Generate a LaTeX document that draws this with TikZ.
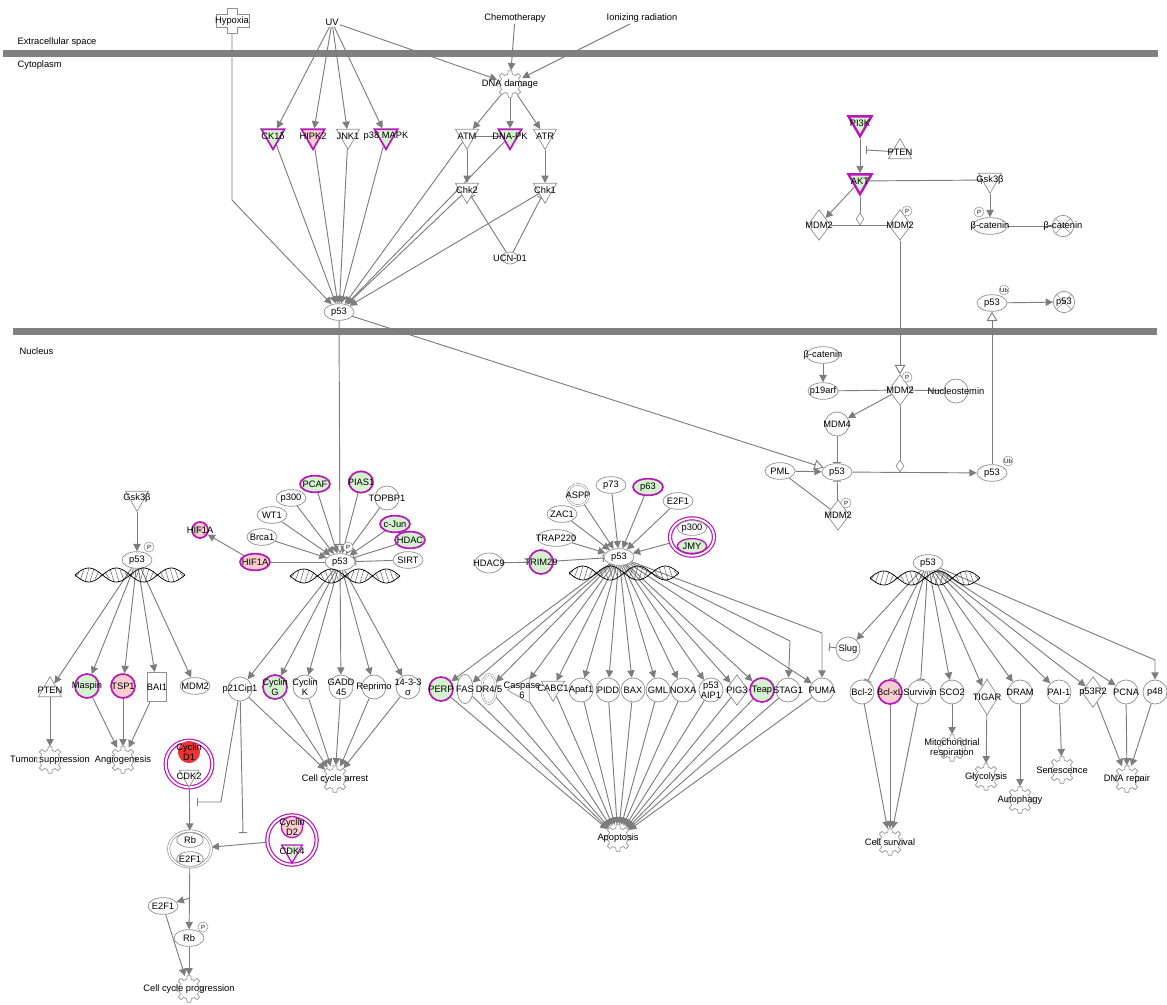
\documentclass[tikz,border=0pt]{standalone}
\usepackage{fontspec}
\setmainfont{Liberation Sans}
\usetikzlibrary{shapes.geometric, arrows.meta, backgrounds}
\definecolor{ecol}{RGB}{125,125,125}
\definecolor{ncol}{RGB}{145,145,145}
\definecolor{mag}{RGB}{185,25,185}
\definecolor{lgr}{RGB}{212,242,206}
\definecolor{lpk}{RGB}{250,206,206}
\definecolor{lred}{RGB}{236,52,52}
\definecolor{membr}{RGB}{128,128,128}
\newcommand\lblf{\fontsize{7pt}{7.6pt}\selectfont}
\newcommand\tinyf{\fontsize{4.5pt}{5pt}\selectfont}
\newcommand\fnode[3]{\pic at (#2) {gear}; \node[fnc, lb={#3}] (#1) at (#2) {};}
\tikzset{
 every label/.style={font=\lblf, inner sep=0pt, align=center, text=black},
 lb/.style={label={center:#1}},
 nbase/.style={draw=ncol, fill=white, line width=0.55pt, inner sep=0pt},
 ell/.style={nbase, ellipse, minimum width=22.5pt, minimum height=12.5pt},
 circ/.style={nbase, circle, minimum size=18pt},
 trid/.style={nbase, regular polygon, regular polygon sides=3, shape border rotate=180, minimum size=20pt},
 triu/.style={nbase, regular polygon, regular polygon sides=3, minimum size=20pt},
 dia/.style={nbase, diamond, minimum width=17pt, minimum height=23pt},
 jd/.style={nbase, diamond, minimum width=6pt, minimum height=9pt},
 mg/.style={draw=mag, line width=1.3pt, fill=lgr},
 mp/.style={draw=mag, line width=1.3pt, fill=lpk},
 txt/.style={font=\lblf, inner sep=1pt},
 badge/.style={circle, draw=ncol, fill=white, line width=0.4pt, inner sep=0pt, minimum size=7.5pt, font=\tinyf},
 degr/.style={circ, minimum size=16pt, path picture={\draw[ncol, line width=0.5pt] (path picture bounding box.north east) -- (path picture bounding box.south west) (path picture bounding box.north west) -- (path picture bounding box.south east);}},
 cplxm/.style={circle, draw=mag, line width=0.9pt, double=white, double distance=1.4pt, fill=white, inner sep=0pt},
 cplxg/.style={ellipse, draw=ncol, line width=0.5pt, double=white, double distance=1.2pt, fill=white, inner sep=0pt},
 fnc/.style={circle, minimum size=20pt, inner sep=0pt},
 ln/.style={draw=ecol, line width=0.7pt},
 act/.style={ln, -{Triangle[length=5.5pt, width=5.5pt]}},
 inh/.style={ln, -{Bar[width=6pt, line width=0.7pt]}},
 oarr/.style={ln, -{Triangle[open, length=7pt, width=8pt, fill=white]}},
 pl/.style={ln},
 gear/.pic={\draw[ncol, line width=0.5pt, fill=white] (-13:7.5pt) \foreach \a in {0,45,...,315}{ -- (\a-13:7.5pt) -- (\a-8:10pt) -- (\a+8:10pt) -- (\a+13:7.5pt)} -- cycle;},
 helix/.pic={
  \foreach \hh in {-53,-48,...,52} \draw[black!65, line width=0.35pt] ({\hh-2},{7*sin(\hh/55*360)}) -- ({\hh+2},{-7*sin(\hh/55*360)});
  \draw[black, line width=0.55pt] plot[domain=-55:55, samples=45, smooth, variable=\hv] (\hv,{7*sin(\hv/55*360)});
  \draw[black, line width=0.55pt] plot[domain=-55:55, samples=45, smooth, variable=\hv] (\hv,{-7*sin(\hv/55*360)});
 }
}
\begin{document}
\begin{tikzpicture}[x=0.75pt, y=-0.75pt]
\useasboundingbox (0,0) rectangle (1167,1005);

% compartment labels
\node[txt, anchor=west] (lext) at (16,42) {Extracellular space};
\node[txt, anchor=west] (lcyt) at (16,65) {Cytoplasm};
\node[txt, anchor=west] (lnuc) at (18,351) {Nucleus};

% ---------- top ----------
\draw[ncol, fill=white, line width=0.5pt] (227,8) -- (237,8) -- (237,14) -- (249,14) -- (249,27) -- (237,27) -- (237,33) -- (227,33) -- (227,27) -- (216,27) -- (216,14) -- (227,14) -- cycle;
\node[txt, minimum height=18pt] (hyp) at (232,21) {Hypoxia};
\coordinate (hk) at (232,200);
\node[txt] (uv) at (332,22) {UV};
\node[txt] (chemo) at (515,18) {Chemotherapy};
\node[txt] (ionr) at (642,18) {Ionizing radiation};
\fnode{dnad}{510,84}{DNA damage}
\node[trid, mg, lb=CK1δ] (ck1) at (273,136) {};
\node[trid, mp, lb=HIPK2] (hipk) at (313,136) {};
\node[trid, lb=JNK1] (jnk) at (348,136) {};
\node[trid, mg, lb={p38 MAPK}] (p38) at (386,136) {};
\node[trid, lb=ATM] (atm) at (467,136) {};
\node[trid, mg, lb={DNA-PK}] (dnapk) at (510,136) {};
\node[trid, lb=ATR] (atr) at (545,136) {};
\node[trid, lb=Chk2] (chk2) at (467,190) {};
\node[trid, lb=Chk1] (chk1) at (545,190) {};
\node[ell, minimum width=12pt, minimum height=9pt, lb={UCN-01}] (ucn) at (510,258) {};
\node[ell, lb=p53] (p53a) at (339,312) {};

% ---------- top right ----------
\node[trid, mg, line width=1.8pt, lb=PI3K] (pi3k) at (860,123) {};
\node[triu, lb=PTEN] (pten1) at (900,152) {};
\coordinate (pk) at (866,150);
\node[trid, mg, line width=1.8pt, lb=AKT] (akt) at (860,181) {};
\node[trid, lb=Gsk3β] (gsk1) at (990,180) {};
\node[dia, lb=MDM2] (mdm2a) at (819,225) {};
\node[jd] (jd1) at (860,219) {};
\node[dia, lb=MDM2] (mdm2b) at (900,225) {};
\node[badge] (bg1) at (907,211) {P};
\node[ell, minimum width=26pt, lb=β-catenin] (bcat1) at (990,226) {};
\node[badge] (bg2) at (979,212) {P};
\node[degr, lb=β-catenin] (bcatd) at (1063,226) {};
\node[ell, lb=p53] (p53ub1) at (992,303) {};
\node[badge] (bg3) at (1004,290) {Ub};
\node[degr, lb=p53] (p53d1) at (1064,302) {};

% ---------- nucleus right ----------
\node[ell, minimum width=25pt, lb=β-catenin] (bcat2) at (823,355) {};
\node[ell, lb=p19arf] (p19) at (823,391) {};
\node[dia, lb=MDM2] (mdm2c) at (900,390) {};
\node[badge] (bg4) at (907,377) {P};
\node[circ, lb=Nucleostemin] (nucl) at (956,391) {};
\node[circ, lb=MDM4] (mdm4) at (837,424) {};
\node[ell, lb=p53] (p53r) at (837,472) {};
\node[ell, lb=PML] (pml) at (780,471) {};
\node[dia, lb=MDM2] (mdm2d) at (838,515) {};
\node[badge] (bg5) at (846,503) {P};
\node[jd] (jd2) at (900,466) {};
\node[ell, lb=p53] (p53ub2) at (992,473) {};
\node[badge] (bg6) at (1008,461) {Ub};

% ---------- cluster 1 ----------
\node[trid, lb=Gsk3β] (gsk2) at (137,498) {};
\node[ell, lb=p53] (p53b) at (137,560) {};
\node[badge] (bg7) at (149,547) {P};
\pic at (130,575) {helix};
\node[triu, lb=PTEN] (pten2) at (50,690) {};
\node[circ, mg, lb=Maspin] (masp) at (87,686) {};
\node[circ, mp, lb=TSP1] (tsp1) at (123,686) {};
\node[nbase, rectangle, minimum width=14pt, minimum height=22pt, lb=BAI1] (bai1) at (157,687) {};
\node[ell, lb=MDM2] (mdm2e) at (195,686) {};
\fnode{tumor}{50,760}{Tumor suppression}
\fnode{angio}{123,760}{Angiogenesis}

% ---------- cluster 2 ----------
\node[ell, lb=p53] (p53c) at (340,562) {};
\node[badge] (bg8) at (348,547) {P};
\pic at (345,576) {helix};
\node[ell, mp, lb=HIF1A] (hif) at (255,562) {};
\node[degr, mp, minimum size=12pt, lb=HIF1A] (hifd) at (200,530) {};
\node[ell, lb=Brca1] (brca) at (262,537) {};
\node[ell, lb=WT1] (wt1) at (272,515) {};
\node[ell, lb=p300] (p300a) at (291,498) {};
\node[ell, mg, lb=PCAF] (pcaf) at (315,484) {};
\node[ell, mg, minimum width=18pt, minimum height=16pt, lb=PIAS1] (pias) at (361,482) {};
\node[circ, lb=TOPBP1] (topbp) at (387,498) {};
\node[ell, mg, lb=c-Jun] (cjun) at (395,524) {};
\node[ell, mg, lb=HDAC] (hdac) at (410,540) {};
\node[ell, lb=SIRT] (sirt) at (408,560) {};
\node[circ, lb=p21Cip1] (p21) at (240,689) {};
\node[circ, mg, lb={Cyclin\\G}] (cycg) at (275,687) {};
\node[circ, lb={Cyclin\\K}] (cyck) at (305,687) {};
\node[circ, lb={GADD\\45}] (gadd) at (341,687) {};
\node[circ, lb=Reprimo] (repr) at (374,687) {};
\node[circ, lb={14-3-3\\σ}] (s1433) at (408,687) {};
\fnode{cca}{335,779}{Cell cycle arrest}
\node[cplxm, minimum size=35pt] (cx1) at (189,764) {};
\node[circ, fill=lred, draw=lred, minimum size=16pt, lb={Cyclin\\D1}] (cd1) at (189,752) {};
\node[trid, minimum size=17pt, lb=CDK2] (cdk2) at (189,776) {};
\node[cplxg, minimum width=32pt, minimum height=27pt] (rbe) at (190,849) {};
\node[ell, minimum width=20pt, minimum height=11pt, lb=Rb] (rb1) at (190,840) {};
\node[ell, minimum width=20pt, minimum height=11pt, lb=E2F1] (e2f1c) at (190,859) {};
\node[cplxm, minimum size=37pt] (cx2) at (292,840) {};
\node[circ, mp, line width=1pt, minimum size=16pt, lb={Cyclin\\D2}] (cd2) at (292,827) {};
\node[trid, mg, line width=1pt, minimum size=18pt, lb=CDK4] (cdk4) at (292,851) {};
\coordinate (k1) at (221,802);
\coordinate (i1) at (197,802);
\coordinate (i2) at (243,833);
\coordinate (br) at (190,898);
\node[ell, lb=E2F1] (e2f1b) at (163,906) {};
\node[ell, lb=Rb] (rbp) at (189,938) {};
\node[badge] (bg9) at (203,927) {P};
\fnode{ccp}{189,989}{Cell cycle progression}

% ---------- cluster 3 ----------
\node[ell, lb=p53] (p53d) at (619,557) {};
\pic at (624,573) {helix};
\node[ell, minimum width=21pt, minimum height=15pt, lb=HDAC9] (hdac9) at (489,563) {};
\node[circ, mg, lb=TRIM29] (trim) at (541,562) {};
\node[ell, minimum width=28pt, lb=TRAP220] (trap) at (556,538) {};
\node[ell, lb=ZAC1] (zac1) at (562,514) {};
\node[circle, draw=ncol, double=white, double distance=1pt, fill=white, line width=0.4pt, minimum size=16pt, inner sep=0pt, lb=ASPP] (aspp) at (578,495) {};
\node[ell, lb=p73] (p73) at (611,485) {};
\node[ell, mg, lb=p63] (p63) at (648,487) {};
\node[ell, lb=E2F1] (e2f1a) at (678,501) {};
\node[cplxm, ellipse, minimum width=33pt, minimum height=28pt] (cx3) at (692,537) {};
\node[ell, minimum width=22pt, minimum height=11pt, lb=p300] (p300b) at (692,528) {};
\node[ell, mg, line width=1pt, minimum width=22pt, minimum height=11pt, lb=JMY] (jmy) at (692,546) {};
\node[circ, mg, lb=PERP] (perp) at (441,689) {};
\node[ell, minimum width=12pt, minimum height=22pt, lb=FAS] (fas) at (465,689) {};
\node[ell, double=white, double distance=1pt, line width=0.4pt, minimum width=11pt, minimum height=22pt, lb=DR4/5] (dr45) at (489,689) {};
\node[nbase, regular polygon, regular polygon sides=3, shape border rotate=90, minimum size=22pt, lb={Caspase\\6}] (casp) at (522,690) {};
\node[trid, lb=CABC1] (cabc1) at (553,688) {};
\node[circ, lb=Apaf1] (apaf1) at (581,690) {};
\node[circ, lb=PIDD] (pidd) at (608,690) {};
\node[circ, lb=BAX] (bax) at (633,690) {};
\node[circ, lb=GML] (gml) at (658,690) {};
\node[circ, lb=NOXA] (noxa) at (683,690) {};
\node[circ, lb={p53\\AIP1}] (aip1) at (711,690) {};
\node[dia, lb=PIG3] (pig3) at (737,690) {};
\node[circ, mg, lb=Teap] (teap) at (762,690) {};
\node[circ, lb=STAG1] (stag1) at (788,690) {};
\node[circ, lb=PUMA] (puma) at (822,690) {};
\coordinate (st1) at (790,641);
\coordinate (pu1) at (822,633);
\node[circ, lb=Slug] (slug) at (848,649) {};
\coordinate (si) at (829,647);
\fnode{apop}{618,838}{Apoptosis}

% ---------- right cluster ----------
\node[ell, lb=p53] (p53e) at (928,563) {};
\pic at (925,578) {helix};
\node[circ, lb=Bcl-2] (bcl2) at (862,692) {};
\node[circ, mp, lb=Bcl-xL] (bclxl) at (890,692) {};
\node[circ, lb=Survivin] (surv) at (920,692) {};
\node[circ, lb=SCO2] (sco2) at (952,692) {};
\node[dia, minimum height=27pt, lb=TIGAR] (tigar) at (987,697) {};
\node[circ, lb=DRAM] (dram) at (1020,692) {};
\node[circ, lb=PAI-1] (pai1) at (1059,692) {};
\node[dia, lb=p53R2] (p53r2) at (1093,692) {};
\node[circ, lb=PCNA] (pcna) at (1126,692) {};
\node[circ, lb=p48] (p48) at (1155,692) {};
\coordinate (p4c) at (1155,660);
\fnode{mito}{952,748}{Mitochondrial\\respiration}
\fnode{glyc}{986,777}{Glycolysis}
\fnode{autoph}{1020,800}{Autophagy}
\fnode{senes}{1062,770}{Senescence}
\fnode{dnar}{1127,779}{DNA repair}
\fnode{csurv}{890,842}{Cell survival}

% ---------- background: membranes and connectors ----------
\begin{scope}[on background layer]
\fill[membr] (3,50) rectangle (1158,57);
\fill[membr] (13,328) rectangle (1157,335);
% top
\draw[act] (hyp.south) -- (hk) -- (p53a);
\foreach \t in {ck1,hipk,jnk,p38} \draw[act] (uv) -- (\t);
\draw[act] (uv) -- (dnad);
\draw[act] (chemo) -- (dnad);
\draw[act] (ionr) -- (dnad);
\foreach \t in {atm,dnapk,atr} \draw[act] (dnad) -- (\t);
\draw[pl] (atm) -- (dnapk);
\draw[act] (atm) -- (chk2);
\draw[act] (atr) -- (chk1);
\draw[inh] (ucn) -- (chk2);
\draw[inh] (ucn) -- (chk1);
\foreach \t in {ck1,hipk,jnk,p38,atm,dnapk,chk2,chk1} \draw[act] (\t) -- (p53a);
% top right
\draw[act] (pi3k) -- (akt);
\draw[inh] (pten1) -- (pk);
\draw[inh] (akt) -- (gsk1);
\draw[act] (gsk1) -- (bcat1);
\draw[pl] (bcat1) -- (bcatd);
\draw[act] (akt) -- (mdm2a);
\draw[pl] (mdm2a) -- (mdm2b);
\draw[pl] (akt) -- (jd1);
\draw[oarr] (mdm2b) -- (mdm2c);
\draw[act] (p53ub1) -- (p53d1);
\draw[oarr] (p53ub2) -- (p53ub1);
\draw[oarr] (p53a) -- (p53r);
\draw[oarr] (p53a) -- (p53c);
% nucleus right
\draw[act] (bcat2) -- (p19);
\draw[inh] (p19) -- (mdm2c);
\draw[inh] (nucl) -- (mdm2c);
\draw[act] (mdm2c) -- (mdm4);
\draw[inh] (mdm4) -- (p53r);
\draw[act] (pml) -- (p53r);
\draw[pl] (pml) -- (mdm2d);
\draw[inh] (mdm2d) -- (p53r);
\draw[act] (p53r) -- (p53ub2);
\draw[pl] (mdm2c) -- (jd2);
% cluster 1
\draw[act] (gsk2) -- (p53b);
\foreach \t in {pten2,masp,tsp1,bai1,mdm2e} \draw[act] (p53b) -- (\t);
\draw[act] (pten2) -- (tumor);
\foreach \t in {masp,tsp1,bai1} \draw[act] (\t) -- (angio);
% cluster 2
\foreach \t in {brca,wt1,p300a,pcaf,pias,topbp,cjun} \draw[act] (\t) -- (p53c);
\draw[inh] (hdac) -- (p53c);
\draw[inh] (sirt) -- (p53c);
\draw[pl] (hif) -- (p53c);
\draw[act] (hif) -- (hifd);
\foreach \t in {p21,cycg,cyck,gadd,repr,s1433} {\draw[act] (p53c) -- (\t); \draw[act] (\t) -- (cca);}
\draw[inh] (p21) -- (k1) -- (i1);
\draw[inh] (p21) -- (i2);
\draw[act] (cx1) -- (rbe);
\draw[act] (cx2) -- (rbe);
\draw[act] (rbe) -- (rbp);
\draw[act] (br) -- (e2f1b);
\draw[act] (e2f1b) -- (ccp);
\draw[act] (rbp) -- (ccp);
% cluster 3
\draw[pl] (hdac9) -- (trim);
\draw[inh] (trim) -- (p53d);
\foreach \t in {trap,zac1,aspp,p73,p63,e2f1a,cx3} \draw[act] (\t) -- (p53d);
\foreach \t in {perp,fas,dr45,casp,cabc1,apaf1,pidd,bax,gml,noxa,aip1,pig3,teap} \draw[act] (p53d) -- (\t);
\draw[act] (p53d) -- (st1) -- (stag1);
\draw[act] (p53d) -- (puma);
\draw[act] (p53d) -- (pu1) -- (puma);
\draw[inh] (slug) -- (si);
\foreach \t in {perp,fas,dr45,casp,cabc1,apaf1,pidd,bax,gml,noxa,aip1,pig3,teap,stag1,puma} \draw[act] (\t) -- (apop);
% right cluster
\draw[act] (p53e) -- (slug);
\foreach \t in {bcl2,bclxl,surv} \draw[inh] (p53e) -- (\t);
\foreach \t in {sco2,tigar,dram,pai1,p53r2,pcna} \draw[act] (p53e) -- (\t);
\draw[act] (p53e) -- (p4c) -- (p48);
\foreach \t in {bcl2,bclxl,surv} \draw[act] (\t) -- (csurv);
\draw[act] (sco2) -- (mito);
\draw[act] (tigar) -- (glyc);
\draw[act] (dram) -- (autoph);
\draw[act] (pai1) -- (senes);
\foreach \t in {p53r2,pcna,p48} \draw[act] (\t) -- (dnar);
\end{scope}
\end{tikzpicture}
\end{document}
